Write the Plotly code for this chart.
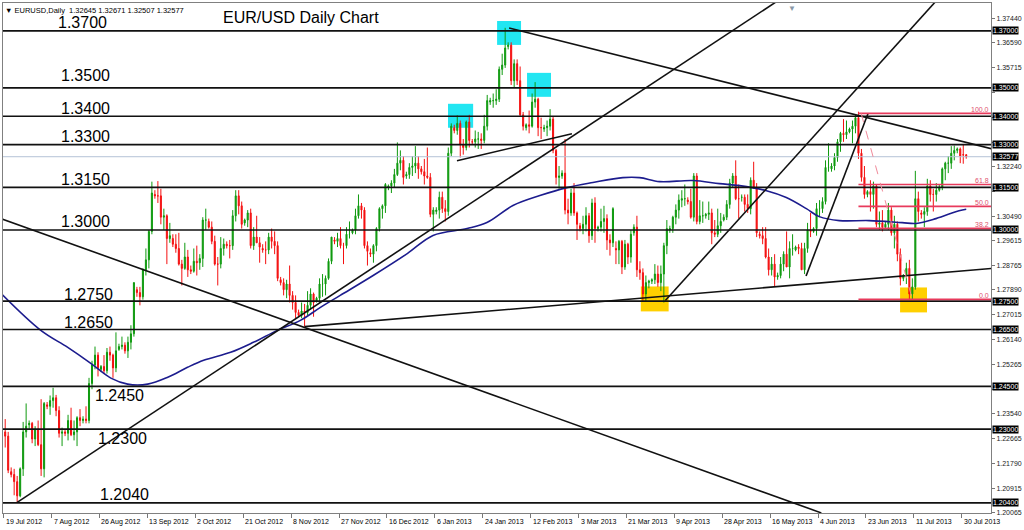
import plotly.graph_objects as go

# ---------------- data ----------------
TICK_LABELS = ["19 Jul 2012", "7 Aug 2012", "26 Aug 2012", "13 Sep 2012", "2 Oct 2012",
               "21 Oct 2012", "8 Nov 2012", "27 Nov 2012", "16 Dec 2012", "6 Jan 2013",
               "24 Jan 2013", "12 Feb 2013", "3 Mar 2013", "21 Mar 2013", "9 Apr 2013",
               "28 Apr 2013", "16 May 2013", "4 Jun 2013", "23 Jun 2013", "11 Jul 2013",
               "30 Jul 2013"]
BARS_PER_TICK = 16

OPEN = [
    1.2290, 1.2275,
    1.2150, 1.2140, 1.2115, 1.2065, 1.2160, 1.2290,
    1.2315, 1.2320, 1.2265, 1.2300, 1.2245, 1.2160,
    1.2385, 1.2380, 1.2400, 1.2410, 1.2365, 1.2285,
    1.2290, 1.2285, 1.2330, 1.2280, 1.2290, 1.2340,
    1.2330, 1.2335, 1.2330, 1.2460, 1.2525, 1.2560,
    1.2510, 1.2520, 1.2505, 1.2570, 1.2560, 1.2515,
    1.2580, 1.2590, 1.2595, 1.2575, 1.2605, 1.2635,
    1.2790, 1.2780, 1.2765, 1.2860, 1.2895, 1.2995,
    1.3125, 1.3120, 1.3120, 1.3045, 1.3050, 1.2970,
    1.2970, 1.2950, 1.2935, 1.2880, 1.2865, 1.2905,
    1.2860, 1.2855, 1.2890, 1.2885, 1.2900, 1.3035,
    1.3030, 1.3010, 1.2960, 1.2880, 1.2880, 1.2935,
    1.2950, 1.2945, 1.2945, 1.3050, 1.3120, 1.3085,
    1.3025, 1.3035, 1.3060, 1.2945, 1.2975, 1.2955,
    1.2935, 1.2930, 1.2930, 1.2975, 1.2960, 1.2945,
    1.2825, 1.2815, 1.2790, 1.2810, 1.2770, 1.2745,
    1.2710, 1.2700, 1.2715, 1.2710, 1.2735, 1.2775,
    1.2750, 1.2760, 1.2810, 1.2810, 1.2830, 1.2890,
    1.2965, 1.2960, 1.2970, 1.2945, 1.2945, 1.2985,
    1.2990, 1.3000, 1.3050, 1.3085, 1.3070, 1.2945,
    1.2920, 1.2915, 1.2945, 1.3005, 1.3075, 1.3085,
    1.3150, 1.3155, 1.3165, 1.3195, 1.3235, 1.3245,
    1.3190, 1.3195, 1.3220, 1.3225, 1.3235,
    1.3215, 1.3205, 1.3190, 1.3185, 1.3055,
    1.3065, 1.3070, 1.3115, 1.3075, 1.3065, 1.3270,
    1.3360, 1.3350, 1.3375, 1.3300, 1.3290, 1.3380,
    1.3310, 1.3310, 1.3320, 1.3320, 1.3315, 1.3365,
    1.3450, 1.3455, 1.3455, 1.3460, 1.3565, 1.3580,
    1.3645, 1.3650, 1.3525, 1.3585, 1.3525, 1.3405,
    1.3360, 1.3370, 1.3365, 1.3450, 1.3460, 1.3360,
    1.3355, 1.3360, 1.3365, 1.3390, 1.3280, 1.3185,
    1.3190, 1.3200, 1.3070, 1.3060, 1.3130, 1.3060,
    1.3015, 1.3005, 1.3020, 1.3050, 1.2980, 1.3095,
    1.3005, 1.3010, 1.3030, 1.3040, 1.2965, 1.2955,
    1.2935, 1.2930, 1.2960, 1.2870, 1.2950, 1.2905,
    1.2990, 1.3010, 1.2860, 1.2850, 1.2775, 1.2815,
    1.2820, 1.2825, 1.2845, 1.2815, 1.2845, 1.2945,
    1.3000, 1.3005, 1.3045, 1.3070, 1.3105, 1.3110,
    1.3105, 1.3100, 1.3045, 1.3190, 1.3030, 1.3050,
    1.3050, 1.3055, 1.3060, 1.2990, 1.2985, 1.3015,
    1.3035, 1.3045, 1.3090, 1.3165, 1.3190, 1.3110,
    1.3115, 1.3115, 1.3090, 1.3075, 1.3175, 1.3150,
    1.2985, 1.2980, 1.2970, 1.2905, 1.2860, 1.2880,
    1.2835, 1.2840, 1.2880, 1.2915, 1.2870, 1.2935,
    1.2930, 1.2940, 1.2935, 1.2860, 1.2935, 1.3000,
    1.2995, 1.3005, 1.3075, 1.3075, 1.3100, 1.3220,
    1.3215, 1.3225, 1.3255, 1.3310, 1.3340, 1.3335,
    1.3345, 1.3355, 1.3365, 1.3395, 1.3270, 1.3185,
    1.3125, 1.3135, 1.3125, 1.3155, 1.3020, 1.3025,
    1.3010, 1.3020, 1.3070, 1.2990, 1.3020, 1.2915,
    1.2830, 1.2840, 1.2865, 1.2775, 1.2800, 1.3110,
    1.3060, 1.3055, 1.3065, 1.3155, 1.3125, 1.3125,
    1.3140, 1.3150, 1.3215, 1.3235, 1.3235, 1.3270,
    1.3280, 1.3285, 1.3265, 1.32645,
]

HIGH = [
    1.2335, 1.2290,
    1.2165, 1.2160, 1.2135, 1.2165, 1.2325, 1.2390,
    1.2330, 1.2325, 1.2310, 1.2330, 1.2405, 1.2395,
    1.2395, 1.2418, 1.2445, 1.2420, 1.2380, 1.2305,
    1.2300, 1.2350, 1.2375, 1.2330, 1.2345, 1.2370,
    1.2345, 1.2380, 1.2480, 1.2540, 1.2590, 1.2570,
    1.2525, 1.2560, 1.2585, 1.2590, 1.2565, 1.2640,
    1.2600, 1.2625, 1.2605, 1.2625, 1.2665, 1.2815,
    1.2800, 1.2800, 1.2865, 1.2935, 1.3000, 1.3170,
    1.3140, 1.3172, 1.3145, 1.3075, 1.3055, 1.3025,
    1.2985, 1.2985, 1.2990, 1.2895, 1.2955, 1.2930,
    1.2875, 1.2935, 1.2945, 1.2915, 1.3045, 1.3075,
    1.3040, 1.3030, 1.2980, 1.2905, 1.2975, 1.2970,
    1.2960, 1.2965, 1.3070, 1.3140, 1.3140, 1.3100,
    1.3040, 1.3070, 1.3075, 1.3010, 1.3050, 1.2975,
    1.2950, 1.2960, 1.2990, 1.3005, 1.2995, 1.2960,
    1.2835, 1.2830, 1.2825, 1.2875, 1.2785, 1.2770,
    1.2720, 1.2745, 1.2740, 1.2785, 1.2795, 1.2780,
    1.2765, 1.2830, 1.2845, 1.2840, 1.2900, 1.2975,
    1.2975, 1.2990, 1.3010, 1.2955, 1.3010, 1.3030,
    1.3005, 1.3075, 1.3125, 1.3095, 1.3080, 1.2960,
    1.2935, 1.2950, 1.3010, 1.3080, 1.3090, 1.3165,
    1.3160, 1.3175, 1.3215, 1.3308, 1.3280, 1.3260,
    1.3205, 1.3235, 1.3260, 1.3295, 1.3260,
    1.3225, 1.3250, 1.3290, 1.3200, 1.3080,
    1.3080, 1.3135, 1.3135, 1.3105, 1.3290, 1.3375,
    1.3370, 1.3403, 1.3385, 1.3320, 1.3385, 1.3405,
    1.3320, 1.3350, 1.3345, 1.3340, 1.3405, 1.3475,
    1.3465, 1.3480, 1.3495, 1.3575, 1.3620, 1.3711,
    1.3660, 1.3660, 1.3600, 1.3600, 1.3575, 1.3415,
    1.3375, 1.3420, 1.3480, 1.3520, 1.3465, 1.3395,
    1.3370, 1.3385, 1.3425, 1.3400, 1.3285, 1.3225,
    1.3210, 1.3320, 1.3110, 1.3145, 1.3165, 1.3065,
    1.3025, 1.3050, 1.3080, 1.3060, 1.3110, 1.3115,
    1.3015, 1.3075, 1.3085, 1.3055, 1.2985, 1.3080,
    1.2960, 1.2965, 1.2965, 1.2965, 1.2955, 1.3000,
    1.3020, 1.3050, 1.2890, 1.2865, 1.2840, 1.2825,
    1.2830, 1.2880, 1.2875, 1.2875, 1.2955, 1.3035,
    1.3015, 1.3050, 1.3090, 1.3125, 1.3140, 1.3160,
    1.3115, 1.3145, 1.3200, 1.3200, 1.3105, 1.3100,
    1.3060, 1.3100, 1.3075, 1.3035, 1.3075, 1.3060,
    1.3055, 1.3105, 1.3180, 1.3200, 1.3245, 1.3160,
    1.3125, 1.3125, 1.3125, 1.3185, 1.3240, 1.3165,
    1.2995, 1.3010, 1.3010, 1.2935, 1.2905, 1.2915,
    1.2850, 1.2905, 1.2925, 1.2995, 1.2960, 1.2985,
    1.2945, 1.2950, 1.2955, 1.2955, 1.3025, 1.3060,
    1.3010, 1.3095, 1.3105, 1.3115, 1.3245, 1.3305,
    1.3235, 1.3270, 1.3320, 1.3345, 1.3390, 1.3385,
    1.3360, 1.3385, 1.3405, 1.3416, 1.3285, 1.3225,
    1.3140, 1.3175, 1.3170, 1.3160, 1.3065, 1.3070,
    1.3030, 1.3095, 1.3080, 1.3050, 1.3030, 1.2935,
    1.2845, 1.2885, 1.2895, 1.2830, 1.3208, 1.3135,
    1.3070, 1.3080, 1.3180, 1.3175, 1.3145, 1.3165,
    1.3160, 1.3220, 1.3240, 1.3260, 1.3295, 1.3297,
    1.3290, 1.3290, 1.3300, 1.32671,
]

LOW = [
    1.2235, 1.2145,
    1.2130, 1.2067, 1.2042, 1.2060, 1.2135, 1.2270,
    1.2300, 1.2250, 1.2240, 1.2240, 1.2135, 1.2130,
    1.2370, 1.2350, 1.2375, 1.2345, 1.2270, 1.2240,
    1.2275, 1.2260, 1.2275, 1.2260, 1.2240, 1.2310,
    1.2320, 1.2320, 1.2320, 1.2440, 1.2510, 1.2485,
    1.2500, 1.2495, 1.2495, 1.2540, 1.2480, 1.2500,
    1.2575, 1.2580, 1.2565, 1.2550, 1.2580, 1.2625,
    1.2765, 1.2735, 1.2755, 1.2840, 1.2865, 1.2985,
    1.3110, 1.3095, 1.3020, 1.3000, 1.2880, 1.2955,
    1.2940, 1.2920, 1.2875, 1.2805, 1.2860, 1.2835,
    1.2845, 1.2850, 1.2840, 1.2860, 1.2870, 1.3000,
    1.3005, 1.2950, 1.2875, 1.2805, 1.2865, 1.2910,
    1.2935, 1.2900, 1.2930, 1.3030, 1.3055, 1.3005,
    1.3015, 1.3010, 1.2935, 1.2930, 1.2955, 1.2885,
    1.2920, 1.2880, 1.2915, 1.2935, 1.2915, 1.2820,
    1.2805, 1.2770, 1.2760, 1.2745, 1.2720, 1.2690,
    1.2695, 1.2690, 1.2660, 1.2700, 1.2720, 1.2695,
    1.2745, 1.2745, 1.2765, 1.2770, 1.2825, 1.2880,
    1.2950, 1.2940, 1.2935, 1.2880, 1.2935, 1.2970,
    1.2985, 1.2985, 1.3040, 1.3040, 1.2935, 1.2875,
    1.2905, 1.2885, 1.2925, 1.2995, 1.3040, 1.3060,
    1.3140, 1.3130, 1.3150, 1.3190, 1.3210, 1.3160,
    1.3180, 1.3180, 1.3190, 1.3200, 1.3180,
    1.3195, 1.3160, 1.3180, 1.3045, 1.2995,
    1.3055, 1.3040, 1.3060, 1.3030, 1.3050, 1.3260,
    1.3340, 1.3335, 1.3255, 1.3265, 1.3280, 1.3290,
    1.3300, 1.3290, 1.3285, 1.3285, 1.3305, 1.3350,
    1.3440, 1.3430, 1.3440, 1.3450, 1.3545, 1.3570,
    1.3635, 1.3510, 1.3500, 1.3510, 1.3400, 1.3350,
    1.3350, 1.3340, 1.3360, 1.3430, 1.3330, 1.3320,
    1.3345, 1.3330, 1.3350, 1.3270, 1.3160, 1.3145,
    1.3180, 1.3055, 1.3020, 1.3050, 1.3050, 1.2965,
    1.2995, 1.2985, 1.2995, 1.2955, 1.2965, 1.2955,
    1.2995, 1.2995, 1.2990, 1.2930, 1.2910, 1.2940,
    1.2880, 1.2880, 1.2845, 1.2860, 1.2880, 1.2885,
    1.2980, 1.2835, 1.2825, 1.2750, 1.2750, 1.2795,
    1.2810, 1.2810, 1.2800, 1.2785, 1.2745, 1.2915,
    1.2990, 1.2990, 1.3020, 1.3040, 1.3080, 1.3085,
    1.3090, 1.3040, 1.3030, 1.3020, 1.3020, 1.3025,
    1.3040, 1.3035, 1.2950, 1.2975, 1.2975, 1.2990,
    1.3030, 1.3035, 1.3075, 1.3150, 1.3105, 1.3040,
    1.3100, 1.3065, 1.3060, 1.3055, 1.3145, 1.2975,
    1.2970, 1.2950, 1.2900, 1.2840, 1.2840, 1.2800,
    1.2825, 1.2830, 1.2855, 1.2870, 1.2830, 1.2910,
    1.2925, 1.2915, 1.2860, 1.2845, 1.2920, 1.2975,
    1.2990, 1.2980, 1.3045, 1.3060, 1.3090, 1.3205,
    1.3205, 1.3210, 1.3240, 1.3275, 1.3310, 1.3320,
    1.3340, 1.3305, 1.3340, 1.3250, 1.3170, 1.3110,
    1.3115, 1.3065, 1.3075, 1.3010, 1.3000, 1.2995,
    1.3005, 1.3000, 1.2980, 1.2935, 1.2890, 1.2805,
    1.2820, 1.2810, 1.2755, 1.2755, 1.2790, 1.3030,
    1.3040, 1.3010, 1.3050, 1.3100, 1.3065, 1.3100,
    1.3135, 1.3140, 1.3175, 1.3200, 1.3215, 1.3245,
    1.3270, 1.3235, 1.3233, 1.32507,
]

CLOSE = [
    1.2275, 1.2155,
    1.2140, 1.2115, 1.2065, 1.2160, 1.2290, 1.2310,
    1.2320, 1.2265, 1.2300, 1.2245, 1.2160, 1.2390,
    1.2380, 1.2400, 1.2410, 1.2365, 1.2285, 1.2290,
    1.2285, 1.2330, 1.2280, 1.2290, 1.2340, 1.2330,
    1.2335, 1.2330, 1.2460, 1.2525, 1.2560, 1.2515,
    1.2520, 1.2505, 1.2570, 1.2560, 1.2515, 1.2575,
    1.2590, 1.2595, 1.2575, 1.2605, 1.2635, 1.2815,
    1.2780, 1.2765, 1.2860, 1.2895, 1.2995, 1.3130,
    1.3120, 1.3120, 1.3045, 1.3050, 1.2970, 1.2980,
    1.2950, 1.2935, 1.2880, 1.2865, 1.2905, 1.2860,
    1.2855, 1.2890, 1.2885, 1.2900, 1.3035, 1.3035,
    1.3010, 1.2960, 1.2880, 1.2880, 1.2935, 1.2950,
    1.2945, 1.2945, 1.3050, 1.3120, 1.3085, 1.3020,
    1.3035, 1.3060, 1.2945, 1.2975, 1.2955, 1.2940,
    1.2930, 1.2930, 1.2975, 1.2960, 1.2945, 1.2830,
    1.2815, 1.2790, 1.2810, 1.2770, 1.2745, 1.2710,
    1.2700, 1.2715, 1.2710, 1.2735, 1.2775, 1.2745,
    1.2760, 1.2810, 1.2810, 1.2830, 1.2890, 1.2975,
    1.2960, 1.2970, 1.2945, 1.2945, 1.2985, 1.2985,
    1.3000, 1.3050, 1.3085, 1.3070, 1.2945, 1.2925,
    1.2915, 1.2945, 1.3005, 1.3075, 1.3085, 1.3160,
    1.3155, 1.3165, 1.3195, 1.3235, 1.3245, 1.3185,
    1.3195, 1.3220, 1.3225, 1.3235, 1.3215,
    1.3205, 1.3190, 1.3185, 1.3055, 1.3070,
    1.3070, 1.3115, 1.3075, 1.3065, 1.3270, 1.3365,
    1.3350, 1.3375, 1.3300, 1.3290, 1.3380, 1.3315,
    1.3310, 1.3320, 1.3320, 1.3315, 1.3365, 1.3455,
    1.3455, 1.3455, 1.3460, 1.3565, 1.3580, 1.3640,
    1.3650, 1.3525, 1.3585, 1.3525, 1.3405, 1.3365,
    1.3370, 1.3365, 1.3450, 1.3460, 1.3360, 1.3360,
    1.3360, 1.3365, 1.3390, 1.3280, 1.3185, 1.3190,
    1.3200, 1.3070, 1.3060, 1.3130, 1.3060, 1.3020,
    1.3005, 1.3020, 1.3050, 1.2980, 1.3095, 1.3005,
    1.3010, 1.3030, 1.3040, 1.2965, 1.2955, 1.3075,
    1.2930, 1.2960, 1.2870, 1.2950, 1.2905, 1.2985,
    1.3010, 1.2860, 1.2850, 1.2775, 1.2815, 1.2820,
    1.2825, 1.2845, 1.2815, 1.2845, 1.2945, 1.3005,
    1.3005, 1.3045, 1.3070, 1.3105, 1.3110, 1.3110,
    1.3100, 1.3045, 1.3190, 1.3030, 1.3050, 1.3050,
    1.3055, 1.3060, 1.2990, 1.2985, 1.3015, 1.3030,
    1.3045, 1.3090, 1.3165, 1.3190, 1.3110, 1.3110,
    1.3115, 1.3090, 1.3075, 1.3175, 1.3150, 1.2990,
    1.2980, 1.2970, 1.2905, 1.2860, 1.2880, 1.2835,
    1.2840, 1.2880, 1.2915, 1.2870, 1.2935, 1.2935,
    1.2940, 1.2935, 1.2860, 1.2935, 1.3000, 1.2995,
    1.3005, 1.3075, 1.3075, 1.3100, 1.3220, 1.3220,
    1.3225, 1.3255, 1.3310, 1.3340, 1.3335, 1.3345,
    1.3355, 1.3365, 1.3395, 1.3270, 1.3185, 1.3125,
    1.3135, 1.3125, 1.3155, 1.3020, 1.3025, 1.3010,
    1.3020, 1.3070, 1.2990, 1.3020, 1.2915, 1.2830,
    1.2840, 1.2865, 1.2775, 1.2800, 1.3110, 1.3065,
    1.3055, 1.3065, 1.3155, 1.3125, 1.3125, 1.3140,
    1.3150, 1.3215, 1.3235, 1.3235, 1.3270, 1.3280,
    1.3285, 1.3260, 1.3264, 1.32577,
]

# moving average (bar index, price)
MA_X = [-1.4, 11.9, 20.9, 28.6, 35.3, 40.9, 47.6, 54.3, 60.9, 66.3, 75.3, 82.9, 90.9,
        98.6, 105.3, 111.9, 122.9, 134.3, 142.9, 154.3, 160.9, 169.6, 178.6, 187.6,
        196.3, 206.3, 211.9, 218.6, 229.6, 238.6, 245.3, 254.3, 260.9, 267.6, 271.9,
        278.6, 288.6, 299.6, 304.3, 310.9, 318.6, 321]
MA_Y = [1.2777, 1.2647, 1.2587, 1.2531, 1.2479, 1.2458, 1.2458, 1.2482, 1.2517, 1.2542,
        1.2570, 1.2605, 1.2647, 1.2682, 1.2728, 1.2770, 1.2840, 1.2917, 1.2981, 1.3005,
        1.3026, 1.3086, 1.3121, 1.3149, 1.3167, 1.3184, 1.3184, 1.3170, 1.3174, 1.3163,
        1.3156, 1.3138, 1.3114, 1.3075, 1.3047, 1.3033, 1.3033, 1.3026, 1.3023, 1.3040,
        1.3068, 1.3073]

LEVELS = [1.3700, 1.3500, 1.3400, 1.3300, 1.3150, 1.3000, 1.2750, 1.2650, 1.2450, 1.2300, 1.2040]
LEVEL_TEXT = ["1.3700", "1.3500", "1.3400", "1.3300", "1.3150", "1.3000", "1.2750", "1.2650",
              "1.2450", "1.2300", "1.2040"]
LEVEL_TEXT_X = [57, 60, 60, 60, 60, 60, 63, 63, 94, 97, 99]      # px from left
LEVEL_TEXT_DY = [8, 12, 8, 8, 8, 8, 7, 7, -9, -9, 8]             # px above line

CURRENT_PRICE = 1.32577
AXIS_TICKS = [1.37440, 1.36590, 1.35715, 1.34840, 1.33965, 1.33090, 1.32240, 1.31365,
              1.30490, 1.29615, 1.28765, 1.27890, 1.27015, 1.26140, 1.25265, 1.24390,
              1.23540, 1.22665, 1.21790, 1.20915, 1.20065]
# axis ticks whose labels sit under a boxed level label (hidden in the reference)
HIDDEN_TICKS = [1.34840, 1.33965, 1.33090, 1.31365, 1.24390]

# trend lines: ((bar, price), (bar, price))
TRENDLINES = [
    ((-1.4, 1.3040), (272.6, 1.2005)),
    ((4.0, 1.2042), (257.9, 1.3805)),
    ((100.0, 1.2660), (329.5, 1.28648)),
    ((150.9, 1.32437), (189.3, 1.33385)),
    ((220.5, 1.2752), (310.9, 1.3805)),
    ((267.5, 1.2838), (288.2, 1.3410)),
    ((168.3, 1.37105), (329.5, 1.32853)),
]

FIB_START = 285.0
FIB_LOW, FIB_HIGH = 1.2756, 1.3410
FIB_RATIOS = [1.0, 0.618, 0.5, 0.382, 0.0]
FIB_TEXT = ["100.0", "61.8", "50.0", "38.2", "0.0"]
FIB_DIAG = ((285.9, 1.3410), (303.0, 1.2756))

# highlight boxes: (bar0, bar1, price0, price1, colour)
BOXES = [
    (147.9, 156.3, 1.33595, 1.34438, "#22e6f2"),
    (164.3, 172.3, 1.36509, 1.37351, "#22e6f2"),
    (174.3, 182.3, 1.34683, 1.35526, "#22e6f2"),
    (212.3, 221.6, 1.27137, 1.28014, "#ffd000"),
    (298.9, 307.9, 1.27102, 1.27979, "#ffd000"),
]

X_RANGE = [-0.73, 329.27]
Y_RANGE = [1.20047, 1.37983]

FONT = "Liberation Sans, Arial, sans-serif"

# ---------------- figure ----------------
x = list(range(len(CLOSE)))
fig = go.Figure()

fig.add_trace(go.Candlestick(
    x=x, open=OPEN, high=HIGH, low=LOW, close=CLOSE,
    increasing=dict(line=dict(color="#0f9a0f", width=1), fillcolor="#0f9a0f"),
    decreasing=dict(line=dict(color="#f41010", width=1), fillcolor="#f41010"),
    whiskerwidth=0, hoverinfo="skip", showlegend=False))

# current price line
fig.add_trace(go.Scatter(x=X_RANGE, y=[CURRENT_PRICE, CURRENT_PRICE], mode="lines",
                         line=dict(color="#b4c2d6", width=1), hoverinfo="skip", showlegend=False))

# moving average
fig.add_trace(go.Scatter(x=MA_X, y=MA_Y, mode="lines", line=dict(color="#1c1c8e", width=1.6, shape="spline"),
                         hoverinfo="skip", showlegend=False))

# horizontal levels
for lv in LEVELS:
    fig.add_trace(go.Scatter(x=X_RANGE, y=[lv, lv], mode="lines", line=dict(color="#111111", width=1.7),
                             hoverinfo="skip", showlegend=False))

# trend lines
for (x0, y0), (x1, y1) in TRENDLINES:
    fig.add_trace(go.Scatter(x=[x0, x1], y=[y0, y1], mode="lines", line=dict(color="#111111", width=1.6),
                             hoverinfo="skip", showlegend=False))

# fibonacci
for r, t in zip(FIB_RATIOS, FIB_TEXT):
    lv = FIB_LOW + r * (FIB_HIGH - FIB_LOW)
    fig.add_trace(go.Scatter(x=[FIB_START, X_RANGE[1]], y=[lv, lv], mode="lines",
                             line=dict(color="#e83a5c", width=1.6), hoverinfo="skip", showlegend=False))
    fig.add_annotation(xref="paper", x=1, xanchor="right", xshift=-1, yref="y", y=lv, yanchor="bottom",
                       yshift=-1, text=t, showarrow=False, borderpad=0,
                       font=dict(family=FONT, size=7, color="#e0506e"))
fig.add_trace(go.Scatter(x=[FIB_DIAG[0][0], FIB_DIAG[1][0]], y=[FIB_DIAG[0][1], FIB_DIAG[1][1]],
                         mode="lines", line=dict(color="#f08a9a", width=1, dash="dash"),
                         hoverinfo="skip", showlegend=False))

# boxes
for b0, b1, p0, p1, col in BOXES:
    fig.add_shape(type="rect", xref="x", yref="y", x0=b0, x1=b1, y0=p0, y1=p1,
                  fillcolor=col, line=dict(width=0), layer="below")

# level texts
for lv, t, px, dy in zip(LEVELS, LEVEL_TEXT, LEVEL_TEXT_X, LEVEL_TEXT_DY):
    fig.add_annotation(xref="paper", x=0, xanchor="left", xshift=px - 4, yref="y", y=lv,
                       yanchor="middle", yshift=dy, text=t, showarrow=False,
                       font=dict(family=FONT, size=16, color="#000000"))

# boxed price labels on the right axis
for lv in LEVELS + [CURRENT_PRICE]:
    fig.add_annotation(xref="paper", x=1, xanchor="left", xshift=1, yref="y", y=lv, yanchor="middle",
                       text=f"{lv:.5f}", showarrow=False, bgcolor="#000000", borderpad=0,
                       font=dict(family=FONT, size=7, color="#ffffff"))

# x-axis date labels
for i, t in enumerate(TICK_LABELS):
    fig.add_annotation(xref="x", x=i * BARS_PER_TICK - 0.5, xanchor="left", xshift=0, yref="paper", y=0,
                       yanchor="top", yshift=-3, text=t, showarrow=False,
                       font=dict(family=FONT, size=7, color="#000000"))

# title and header
fig.add_annotation(xref="paper", x=0, xanchor="left", xshift=218, yref="paper", y=1, yanchor="middle",
                   yshift=-14, text="EUR/USD Daily Chart", showarrow=False,
                   font=dict(family=FONT, size=16, color="#000000"))
fig.add_annotation(xref="paper", x=0, xanchor="left", xshift=0, yref="paper", y=1, yanchor="top",
                   yshift=-1, text="\u25bc EURUSD,Daily  1.32645 1.32671 1.32507 1.32577", showarrow=False,
                   font=dict(family=FONT, size=7.5, color="#000000"))
fig.add_annotation(xref="paper", x=(793 - 2) / 990, xanchor="center", yref="paper", y=1, yanchor="top",
                   yshift=1, text="\u25bc", showarrow=False, font=dict(family=FONT, size=8, color="#8a98a8"))

fig.update_layout(
    width=1024, height=530,
    margin=dict(l=2, r=32, t=2, b=17),
    paper_bgcolor="#ffffff", plot_bgcolor="#ffffff",
    boxgap=0.5,
    showlegend=False,
    font=dict(family=FONT, size=7, color="#000000"),
    xaxis=dict(range=X_RANGE, rangeslider=dict(visible=False), showgrid=False, zeroline=False,
               tickmode="array", tickvals=[i * BARS_PER_TICK - 0.5 for i in range(len(TICK_LABELS))],
               showticklabels=False, ticks="outside", ticklen=4, tickcolor="#777777",
               showline=True, mirror=True, linecolor="#808080", linewidth=1),
    yaxis=dict(range=Y_RANGE, side="right", showgrid=False, zeroline=False,
               tickmode="array", tickvals=AXIS_TICKS,
               ticktext=["" if v in HIDDEN_TICKS else f"{v:.5f}" for v in AXIS_TICKS],
               ticks="outside", ticklen=3, tickcolor="#777777",
               tickfont=dict(family=FONT, size=7, color="#222222"),
               showline=True, mirror=True, linecolor="#808080", linewidth=1),
)

fig.write_html("out.html", config={"displayModeBar": False},
               post_script="document.body.style.margin='0px';document.body.style.overflow='hidden';")
